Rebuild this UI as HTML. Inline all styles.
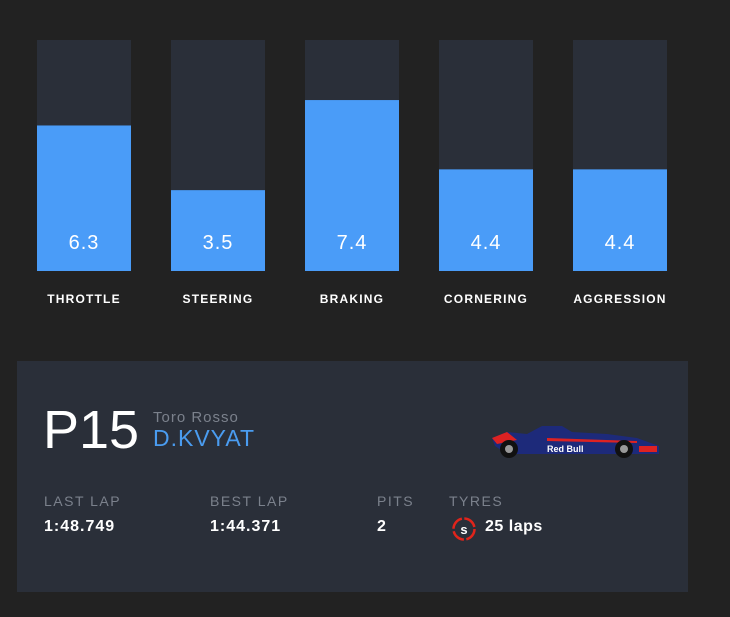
<!DOCTYPE html>
<html><head><meta charset="utf-8">
<style>
html,body{margin:0;padding:0;background:#222222;width:730px;height:617px;overflow:hidden;font-family:"Liberation Sans",sans-serif;}
#chart{position:absolute;left:0;top:0;}
.card{position:absolute;left:17px;top:361px;width:671px;height:231px;background:#2a2f39;}
.abs{position:absolute;white-space:nowrap;}
</style></head><body>
<svg id="chart" width="730" height="320"></svg>

<div class="card">
  <div class="abs" style="left:26px;top:42px;font-size:54px;color:#fff;line-height:1;">P15</div>
  <div class="abs" style="left:136px;top:48px;font-size:15px;color:#7b818c;letter-spacing:1px;">Toro Rosso</div>
  <div class="abs" style="left:136px;top:64px;font-size:23px;color:#4a9cf0;letter-spacing:1px;">D.KVYAT</div>
  <svg class="abs" style="left:470px;top:55px;" width="175" height="45">
    <path d="M5 22 L20 16 L40 18 L55 10 L75 10 L85 16 L120 18 L150 22 L172 30 L172 38 L150 38 L20 38 L8 30 Z" fill="#1d2a7a"/>
    <path d="M5 22 L20 16 L30 24 L10 28 Z" fill="#d22"/>
    <path d="M60 22 L150 25 L150 27 L60 25 Z" fill="#d22"/>
    <text x="60" y="36" font-size="9" font-weight="bold" fill="#fff" font-family="Liberation Sans">Red Bull</text>
    <rect x="152" y="30" width="18" height="6" fill="#d22"/>
    <circle cx="22" cy="33" r="9" fill="#111"/><circle cx="22" cy="33" r="4" fill="#999"/>
    <circle cx="137" cy="33" r="9" fill="#111"/><circle cx="137" cy="33" r="4" fill="#999"/>
  </svg>
  <div class="abs" style="left:27px;top:132px;font-size:14px;color:#7b818c;letter-spacing:1.5px;">LAST LAP</div>
  <div class="abs" style="left:27px;top:157px;font-size:16px;color:#fff;font-weight:bold;letter-spacing:1px;">1:48.749</div>
  <div class="abs" style="left:193px;top:132px;font-size:14px;color:#7b818c;letter-spacing:1.5px;">BEST LAP</div>
  <div class="abs" style="left:193px;top:157px;font-size:16px;color:#fff;font-weight:bold;letter-spacing:1px;">1:44.371</div>
  <div class="abs" style="left:360px;top:132px;font-size:14px;color:#7b818c;letter-spacing:1.5px;">PITS</div>
  <div class="abs" style="left:360px;top:157px;font-size:16px;color:#fff;font-weight:bold;">2</div>
  <div class="abs" style="left:432px;top:132px;font-size:14px;color:#7b818c;letter-spacing:1.5px;">TYRES</div>
  <svg class="abs" style="left:434px;top:155px;" width="26" height="26">
    <circle cx="13" cy="13" r="10.5" fill="none" stroke="#e0241b" stroke-width="2.5" stroke-dasharray="14 2.5"/>
    <text x="13" y="18" text-anchor="middle" font-size="13" font-weight="bold" fill="#fff" font-family="Liberation Sans">s</text>
  </svg>
  <div class="abs" style="left:468px;top:157px;font-size:16px;color:#fff;font-weight:bold;letter-spacing:0.5px;">25 laps</div>
</div>

<script>
const categories = ["THROTTLE","STEERING","BRAKING","CORNERING","AGGRESSION"];
const values = [6.3, 3.5, 7.4, 4.4, 4.4];
const labels = ["6.3","3.5","7.4","4.4","4.4"];
const maxValue = 10;

const svg = document.getElementById('chart');
const NS = 'http://www.w3.org/2000/svg';
const top0 = 40, bottom = 271, barW = 94, step = 134, left0 = 37;
const y = v => bottom - (v / maxValue) * (bottom - top0);
const x = i => left0 + i * step;

categories.forEach((c, i) => {
  const bg = document.createElementNS(NS, 'rect');
  bg.setAttribute('x', x(i)); bg.setAttribute('y', top0);
  bg.setAttribute('width', barW); bg.setAttribute('height', bottom - top0);
  bg.setAttribute('fill', '#2a2f39');
  
  
  svg.appendChild(bg);

  const r = document.createElementNS(NS, 'rect');
  r.setAttribute('x', x(i)); r.setAttribute('y', y(values[i]));
  r.setAttribute('width', barW); r.setAttribute('height', bottom - y(values[i]));
  r.setAttribute('fill', '#4a9cf8');
  
  
  svg.appendChild(r);

  const t = document.createElementNS(NS, 'text');
  t.setAttribute('x', x(i) + barW / 2); t.setAttribute('y', 249);
  t.setAttribute('text-anchor', 'middle'); t.setAttribute('font-size', '20');
  t.setAttribute('fill', '#fff'); t.setAttribute('font-family', 'Liberation Sans');
  t.setAttribute('letter-spacing', '1');
  t.textContent = labels[i];
  
  
  svg.appendChild(t);

  const l = document.createElementNS(NS, 'text');
  l.setAttribute('x', x(i) + barW / 2); l.setAttribute('y', 303);
  l.setAttribute('text-anchor', 'middle'); l.setAttribute('font-size', '12');
  l.setAttribute('font-weight', 'bold'); l.setAttribute('letter-spacing', '1.2');
  l.setAttribute('fill', '#fff'); l.setAttribute('font-family', 'Liberation Sans');
  l.textContent = c;
  
  
  svg.appendChild(l);
});
</script>
</body></html>
